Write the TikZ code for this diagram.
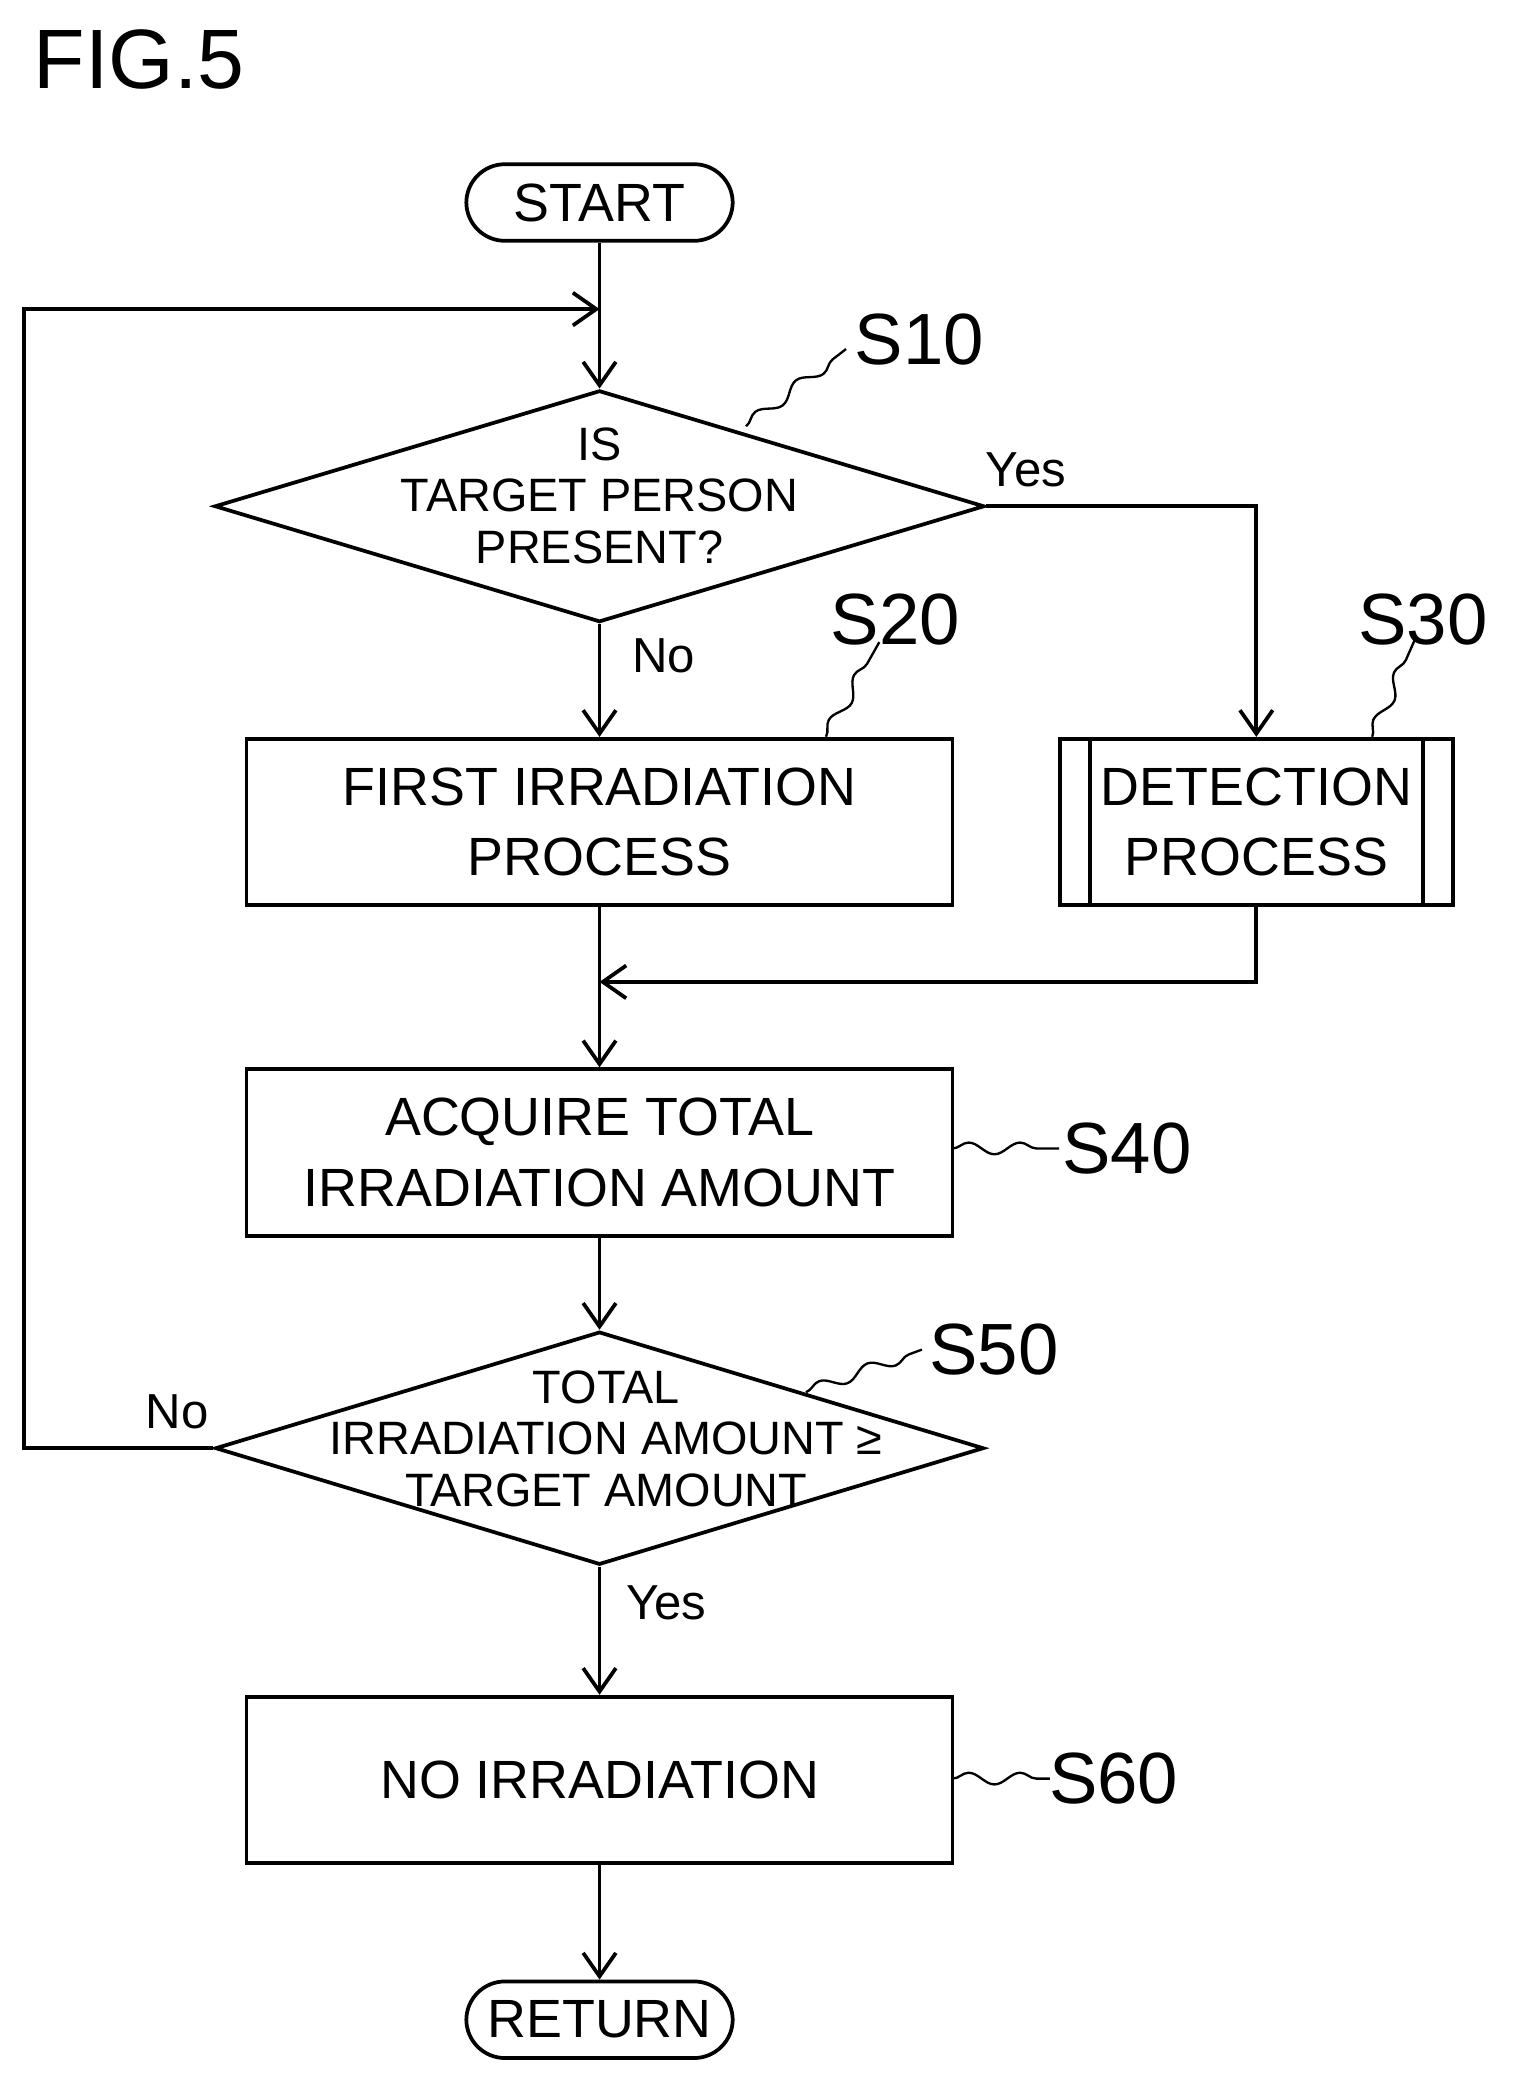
\documentclass[tikz,border=0pt]{standalone}
\usepackage{fontspec}
\setmainfont{Liberation Sans}
\usetikzlibrary{shapes.geometric,arrows.meta,decorations.pathmorphing}
\begin{document}
\begin{tikzpicture}[x=0.02cm,y=-0.02cm,
  line width=1.6pt,
  box/.style={draw,rectangle,minimum width=10.6cm,minimum height=2.5cm,align=center,font=\fontsize{23}{30}\selectfont},
  term/.style={draw,rounded corners=0.58cm,minimum width=4cm,minimum height=1.15cm,font=\fontsize{23}{28}\selectfont},
  dia/.style={draw,diamond,aspect=3.3,inner sep=0pt,align=center,font=\fontsize{20}{24}\selectfont},
  lab/.style={font=\fontsize{31}{36}\selectfont},
  yn/.style={font=\fontsize{21}{24}\selectfont},
  arr/.style={-{Straight Barb[length=10pt,width=14pt]}},
  sq/.style={line width=1pt,decorate,decoration={snake,amplitude=2.5pt,segment length=22pt}}]
\useasboundingbox (0,0) rectangle (1137,1562);
\node[font=\fontsize{36}{40}\selectfont,anchor=west] (fig) at (18,45) {FIG.5};
\node[term] (start) at (450,152) {START};
\node[draw,diamond,minimum width=11.56cm,minimum height=3.48cm,inner sep=0pt] (s10) at (450,380) {};
\node[align=center,font=\fontsize{20}{22}\selectfont] (s10t) at (450,372) {IS\\TARGET PERSON\\PRESENT?};
\node[box] (s20) at (450,617) {FIRST IRRADIATION\\PROCESS};
\node[box,minimum width=5.9cm] (s30) at (943,617) {DETECTION\\PROCESS};
\draw (818,555) -- (818,680) (1068,555) -- (1068,680);
\node[box] (s40) at (450,865) {ACQUIRE TOTAL\\IRRADIATION AMOUNT};
\node[draw,diamond,minimum width=11.54cm,minimum height=3.5cm,inner sep=0pt] (s50) at (450,1087) {};
\node[align=center,font=\fontsize{20}{22}\selectfont] (s50t) at (455,1080) {TOTAL\\IRRADIATION AMOUNT ≥\\TARGET AMOUNT};
\node[box] (s60) at (450,1336) {NO IRRADIATION};
\node[term] (ret) at (450,1516) {RETURN};
\coordinate (top) at (450,232);
\coordinate (join) at (450,737);
\draw (start) -- (top);
\draw[arr] (top) -- (s10.north);
\draw[arr] (s10.south) -- (s20.north);
\draw[arr] (s10.east) -| (s30.north);
\draw (s20.south) -- (join);
\draw[arr] (s30.south) |- (join);
\draw[arr] (join) -- (s40.north);
\draw[arr] (s40.south) -- (s50.north);
\draw[arr] (s50.west) -- (18,1087) -- (18,232) -- (top);
\draw[arr] (s50.south) -- (s60.north);
\draw[arr] (s60.south) -- (ret.north);
\node[yn] (y1) at (770,353) {Yes};
\node[yn] (n1) at (498,492) {No};
\node[yn] (n2) at (133,1060) {No};
\node[yn] (y2) at (500,1203) {Yes};
\node[lab] (l10) at (690,255) {S10};
\node[lab] (l20) at (672,465) {S20};
\node[lab] (l30) at (1068,465) {S30};
\node[lab] (l40) at (846,862) {S40};
\node[lab] (l50) at (746,1013) {S50};
\node[lab] (l60) at (836,1335) {S60};
\draw[sq] (560,320) -- (635,262);
\draw[sq] (620,553) -- (660,482);
\draw[sq] (1030,553) -- (1062,480);
\draw[sq] (715,862) -- (795,862);
\draw[sq] (605,1045) -- (692,1013);
\draw[sq] (715,1335) -- (788,1335);
\end{tikzpicture}
\end{document}
